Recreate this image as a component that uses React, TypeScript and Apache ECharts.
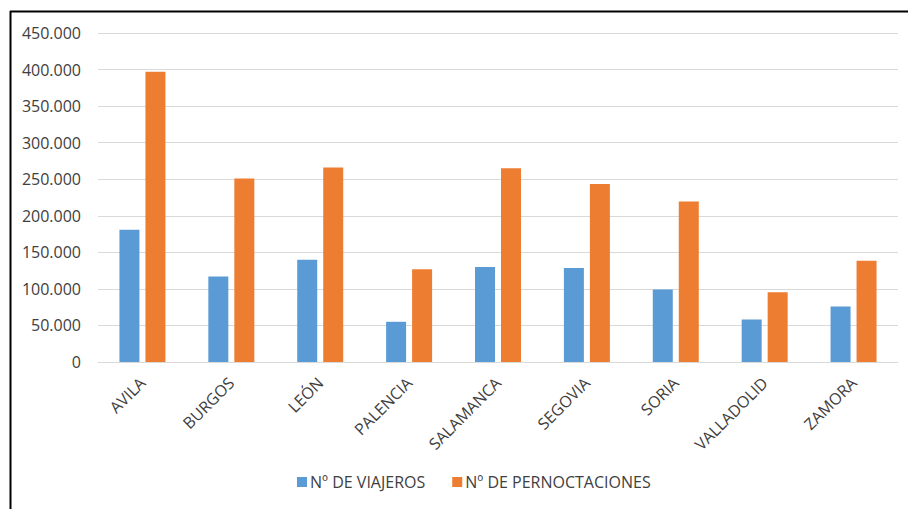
import React, { useEffect, useRef } from "react";
import * as echarts from "echarts";

const categories = ["AVILA", "BURGOS", "LEÓN", "PALENCIA", "SALAMANCA", "SEGOVIA", "SORIA", "VALLADOLID", "ZAMORA"];
const viajeros = [181000, 117000, 140000, 55000, 130000, 128500, 99000, 58000, 76000];
const pernoctaciones = [397000, 251000, 266000, 127000, 265000, 243500, 219500, 95500, 138500];
const seriesNames = ["Nº DE VIAJEROS", "Nº DE PERNOCTACIONES"];

const fmt = (v: number) => String(Math.round(v)).replace(/\B(?=(\d{3})+(?!\d))/g, ".");

export default function App() {
  const ref = useRef<HTMLDivElement>(null);
  useEffect(() => {
    if (!ref.current) return;
    const chart = echarts.init(ref.current, null, { renderer: "svg" });
    const font = "'Open Sans', 'Noto Sans', sans-serif";
    const txt = "#404040";
    chart.setOption({
      animation: false,
      backgroundColor: "#ffffff",
      textStyle: { fontFamily: font },
      grid: { left: 98, right: 10, top: 33, bottom: 147, containLabel: false },
      legend: {
        bottom: 14,
        left: 292,
        itemWidth: 10,
        itemHeight: 10,
        itemGap: 27,
        itemStyle: { borderWidth: 0 },
        icon: "rect",
        textStyle: { color: txt, fontSize: 16, fontFamily: font, padding: [0, 0, 0, -2] },
        data: seriesNames,
      },
      xAxis: {
        type: "category",
        data: categories,
        axisLine: { show: true, lineStyle: { color: "#d9d9d9", width: 1 } },
        axisTick: { show: false },
        axisLabel: { rotate: 45, color: txt, fontSize: 16, margin: 18, interval: 0, fontFamily: font },
      },
      yAxis: {
        type: "value",
        min: 0,
        max: 450000,
        interval: 50000,
        axisLine: { show: false },
        axisTick: { show: false },
        splitLine: { lineStyle: { color: "#d9d9d9", width: 1 } },
        axisLabel: { color: txt, fontSize: 16, margin: 17, formatter: (v: number) => fmt(v), fontFamily: font },
      },
      series: [
        {
          name: seriesNames[0],
          type: "bar",
          data: viajeros,
          barWidth: 20,
          barGap: "30%",
          itemStyle: { color: "#5B9BD5" },
        },
        {
          name: seriesNames[1],
          type: "bar",
          data: pernoctaciones,
          barWidth: 20,
          barGap: "30%",
          itemStyle: { color: "#ED7D31" },
        },
      ],
      graphic: [
        { type: "line", shape: { x1: 10, y1: 11.5, x2: 908, y2: 11.5 }, style: { stroke: "#000000", lineWidth: 2 }, silent: true },
        { type: "line", shape: { x1: 10.5, y1: 11, x2: 10.5, y2: 509 }, style: { stroke: "#000000", lineWidth: 2 }, silent: true },
      ],
    });
    return () => chart.dispose();
  }, []);
  return (
    <div
      ref={ref}
      style={{ position: "fixed", left: 0, top: 0, width: 908, height: 509 }}
    />
  );
}
